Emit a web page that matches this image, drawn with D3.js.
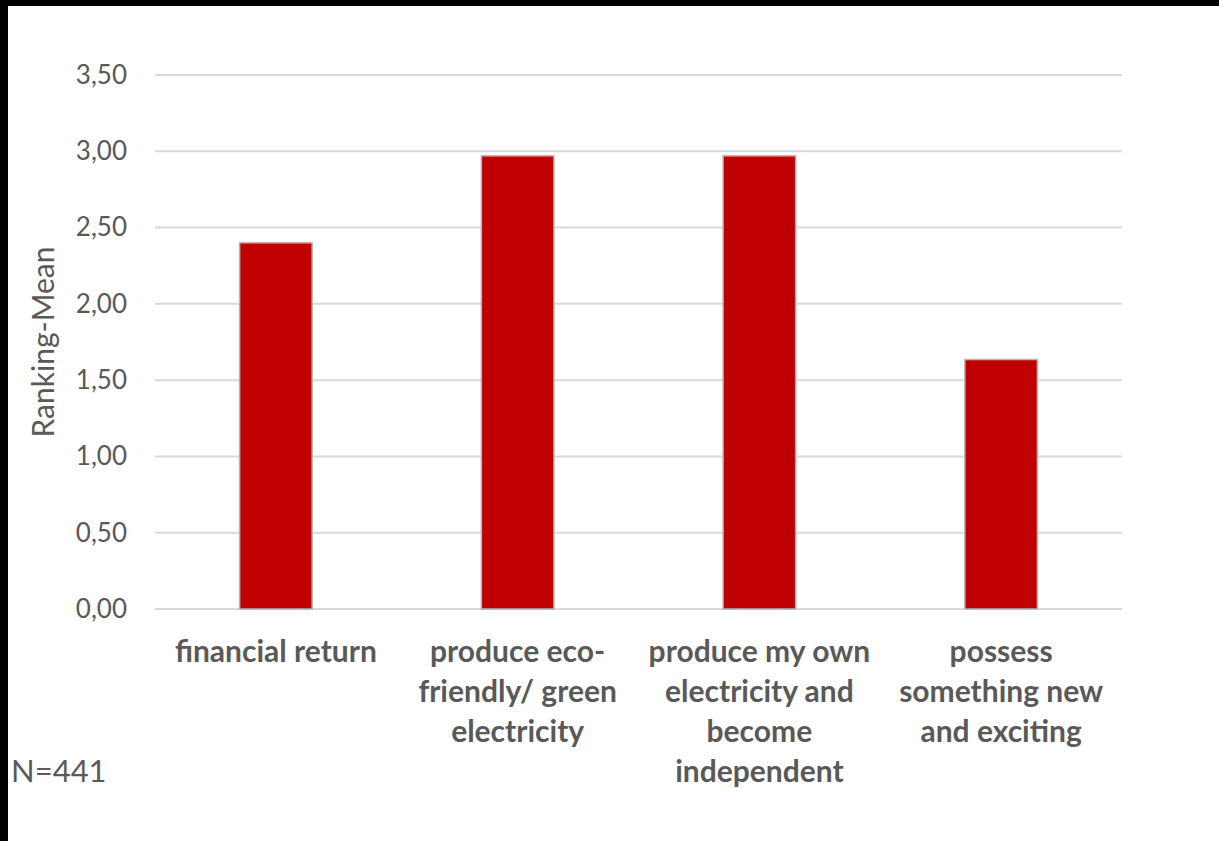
<!DOCTYPE html>
<html>
<head>
<meta charset="utf-8">
<script src="https://cdn.jsdelivr.net/npm/d3@7"></script>
<style>
  html, body { margin: 0; padding: 0; background: #000; }
  svg { display: block; }
  text { font-family: Lato, "Open Sans", sans-serif; fill: #595959; }
</style>
</head>
<body>
<div id="chart"></div>
<script>
// data
var categories = ["financial return", "produce eco-friendly/ green electricity",
                  "produce my own electricity and become independent",
                  "possess something new and exciting"];
var categoryLines = [
    ["financial return"],
    ["produce eco-", "friendly/ green", "electricity"],
    ["produce my own", "electricity and", "become", "independent"],
    ["possess", "something new", "and exciting"]
];
var means = [2.40, 2.97, 2.97, 1.635];
var yTicks = [0, 0.5, 1, 1.5, 2, 2.5, 3, 3.5];
var yTitle = "Ranking-Mean";
var note = "N=441";

var W = 1219, H = 841;
var svg = d3.select("#chart").append("svg")
    .attr("width", W)
    .attr("height", H);

// black frame on top/left, white page
svg.append("rect").attr("width", W).attr("height", H).attr("fill", "#000");
svg.append("rect").attr("x", 8).attr("y", 6).attr("width", W - 8).attr("height", H - 6).attr("fill", "#fff");

var margin = {top: 75, left: 155, right: 97, bottom: 232};
var width = W - margin.left - margin.right,
    height = H - margin.top - margin.bottom;

var g = svg.append("g").attr("transform", "translate(" + margin.left + "," + margin.top + ")");

var x = d3.scaleBand()
    .domain(categories)
    .range([0, width])
    .paddingInner(0.7)
    .paddingOuter(0.35);

var y = d3.scaleLinear()
    .domain([0, 3.5])
    .range([height, 0]);

var fmt = function (d) { return d3.format(".2f")(d).replace(".", ","); };

// gridlines
g.append("g")
    .selectAll("line")
    .data(yTicks)
    .enter().append("line")
    .attr("x1", 0)
    .attr("x2", width)
    .attr("y1", function (d) { return y(d); })
    .attr("y2", function (d) { return y(d); })
    .attr("stroke", "#d9d9d9")
    .attr("stroke-width", 2);

// y axis labels
var yAxis = g.append("g")
    .call(d3.axisLeft(y).tickValues(yTicks).tickFormat(fmt).tickSize(0).tickPadding(28));
yAxis.select(".domain").remove();
yAxis.selectAll("text")
    .attr("fill", "#595959")
    .style("font-size", "26px")
    .style("font-family", "Lato, sans-serif");

// bars
g.append("g")
    .selectAll("rect")
    .data(means)
    .enter().append("rect")
    .attr("x", function (d, i) { return x(categories[i]); })
    .attr("y", function (d) { return y(d); })
    .attr("width", x.bandwidth())
    .attr("height", function (d) { return height - y(d); })
    .attr("fill", "#c00000")
    .attr("stroke", "#b3b3b3")
    .attr("stroke-width", 1.5);

// category labels
var labels = g.append("g")
    .selectAll("text")
    .data(categoryLines)
    .enter().append("text")
    .attr("text-anchor", "middle")
    .attr("transform", function (d, i) {
        return "translate(" + (x(categories[i]) + x.bandwidth() / 2) + "," + (height + 53) + ")";
    })
    .style("font-size", "30px")
    .style("font-weight", "bold");

labels.selectAll("tspan")
    .data(function (d) { return d; })
    .enter().append("tspan")
    .attr("x", 0)
    .attr("y", function (d, i) { return i * 40; })
    .text(function (d) { return d; });

// y title
svg.append("text")
    .attr("transform", "translate(54,342) rotate(-90)")
    .attr("text-anchor", "middle")
    .style("font-size", "30px")
    .text(yTitle);

svg.append("text")
    .attr("x", 11)
    .attr("y", 782)
    .style("font-size", "31px")
    .text(note);
</script>
</body>
</html>
